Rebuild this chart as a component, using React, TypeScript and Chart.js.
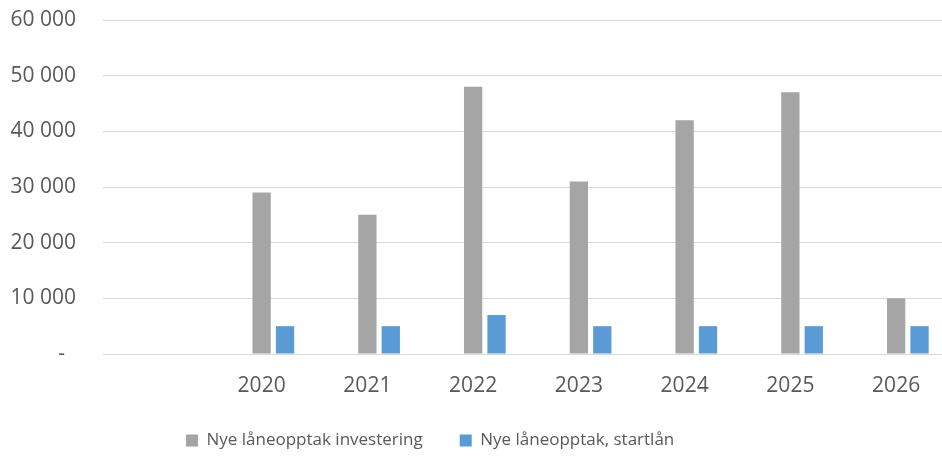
import React, { useEffect, useRef } from "react";
import { Chart, registerables } from "chart.js";

Chart.register(...registerables);

// ---- data ----
const categories = ["", "2020", "2021", "2022", "2023", "2024", "2025", "2026"];
const investering = [null, 29000, 25000, 48000, 31000, 42000, 47000, 10000];
const startlan = [null, 5000, 5000, 7000, 5000, 5000, 5000, 5000];
const spacerSeries = [null, null, null, null, null, null, null, null];
const seriesNames = ["Nye låneopptak investering", "Nye låneopptak, startlån"];
const yTickLabels = ["-", "10 000", "20 000", "30 000", "40 000", "50 000", "60 000"];
const yMin = 0;
const yMax = 60000;
const yStep = 10000;

// ---- styles ----
const GRAY = "#A5A5A5";
const BLUE = "#5B9BD5";
const TEXT = "#595959";
const GRID = "#D9D9D9";
const FONT = "'Open Sans', sans-serif";

const legendShift = {
  id: "legendShift",
  afterLayout(chart: any) {
    if (chart.legend) {
      chart.legend.left = 149;
    }
  },
};

export default function App() {
  const ref = useRef<HTMLCanvasElement | null>(null);

  useEffect(() => {
    if (!ref.current) return;
    const chart = new Chart(ref.current, {
      type: "bar",
      data: {
        labels: categories,
        datasets: [
          {
            label: "",
            data: spacerSeries as any,
            backgroundColor: "rgba(0,0,0,0)",
          },
          {
            label: seriesNames[0],
            data: investering as any,
            backgroundColor: GRAY,
          },
          {
            label: seriesNames[1],
            data: startlan as any,
            backgroundColor: BLUE,
          },
        ],
      },
      options: {
        animation: false,
        responsive: true,
        maintainAspectRatio: false,
        layout: { padding: { top: 20, left: 0, right: 0, bottom: 0 } },
        datasets: {
          bar: {
            categoryPercentage: 0.664,
            barPercentage: 0.782,
          },
        },
        plugins: {
          tooltip: { enabled: false },
          legend: {
            position: "bottom",
            align: "start",
            maxHeight: 62,
            labels: {
              boxWidth: 12,
              boxHeight: 12,
              padding: 37,
              color: TEXT,
              font: { family: FONT, size: 17 },
              filter: (item: any) => item.datasetIndex !== 0,
            },
          },
        },
        scales: {
          x: {
            grid: { display: false, drawTicks: false },
            border: { display: false },
            ticks: {
              color: TEXT,
              padding: 19,
              font: { family: FONT, size: 21 },
              maxRotation: 0,
              autoSkip: false,
            },
            afterFit: (scale: any) => {
              scale.height = 41;
              scale.paddingLeft = 0;
              scale.paddingRight = 0;
            },
          },
          y: {
            min: yMin,
            max: yMax,
            grid: { color: GRID, lineWidth: 1, drawTicks: false },
            border: { display: false },
            ticks: {
              stepSize: yStep,
              color: TEXT,
              padding: 27,
              font: { family: FONT, size: 21 },
              callback: (_v: any, i: number) =>
                i === 0 ? yTickLabels[0] + "\u00a0\u00a0" : yTickLabels[i],
            },
            afterFit: (scale: any) => {
              scale.width = 103;
              scale.paddingTop = 10;
              scale.paddingBottom = 10;
            },
          },
        },
      },
      plugins: [legendShift],
    });
    return () => chart.destroy();
  }, []);

  return (
    <div
      style={{
        position: "fixed",
        left: 0,
        top: 0,
        width: 942,
        height: 457,
        overflow: "hidden",
        background: "#fff",
      }}
    >
      <div style={{ position: "relative", width: 949, height: 457 }}>
        <canvas ref={ref} />
      </div>
    </div>
  );
}
